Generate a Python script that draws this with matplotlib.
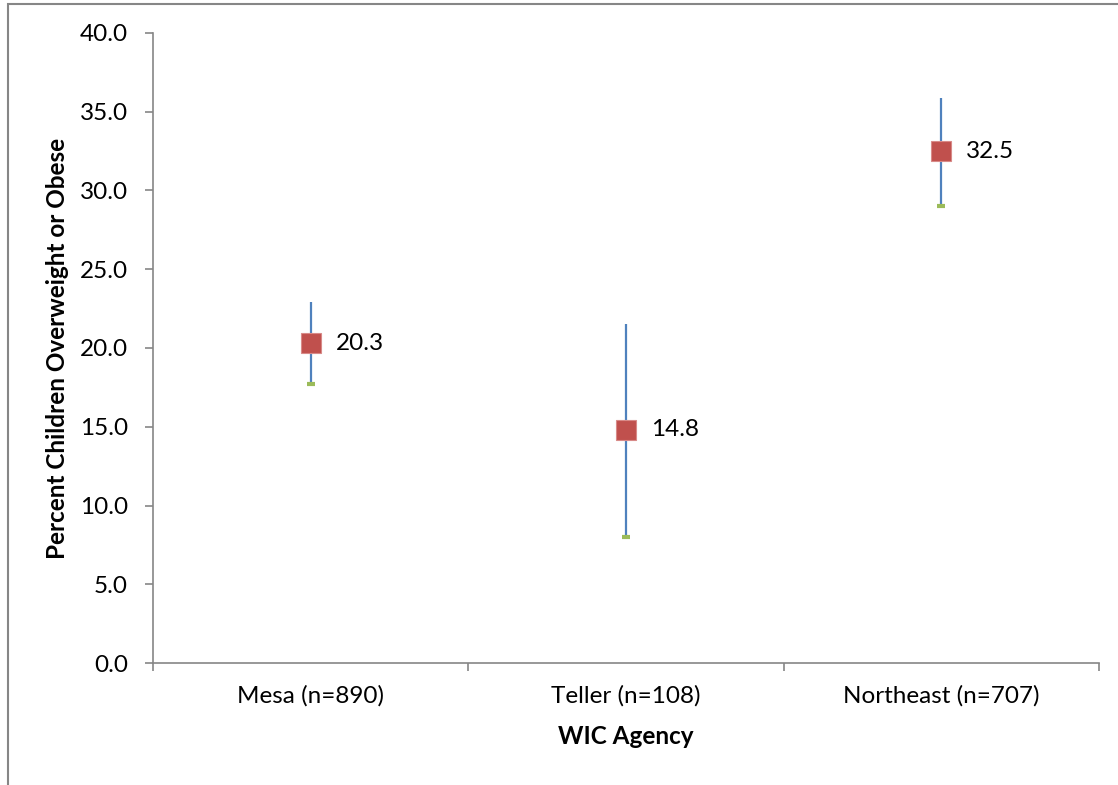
import matplotlib.pyplot as plt
from matplotlib.patches import Rectangle

agencies = ["Mesa (n=890)", "Teller (n=108)", "Northeast (n=707)"]
percent = [20.3, 14.8, 32.5]
upper = [22.9, 21.5, 35.9]
lower = [17.7, 8.0, 29.0]

plt.rcParams["font.family"] = ["Lato", "DejaVu Sans"]

fig = plt.figure(figsize=(11.18, 7.85), dpi=100)
ax = fig.add_axes([0.1369, 0.1554, 0.846, 0.8026])

x = list(range(len(agencies)))
grey = "#868686"
fs = 17.5

# high-low lines
ax.vlines(x, percent, upper, color="#4F81BD", linewidth=1.6, zorder=2)
ax.vlines(x, lower, percent, color="#4F81BD", linewidth=1.6, zorder=2)
ax.plot(x, lower, linestyle="none", marker="_", markersize=6, markeredgewidth=3,
        color="#9BBB59", zorder=3)
ax.plot(x, percent, linestyle="none", marker="s", markersize=14.5,
        markerfacecolor="#C0504D", markeredgecolor="#D88A88", markeredgewidth=0.8,
        zorder=4)
for xi, v in zip(x, percent):
    ax.annotate(f"{v:.1f}", (xi, v), xytext=(18, 0), textcoords="offset points",
                va="center", ha="left", fontsize=fs)

ax.set_xlim(-0.5, 2.5)
ax.set_ylim(0, 40)
ax.set_yticks([i * 5 for i in range(9)])
ax.set_yticklabels([f"{i * 5:.1f}" for i in range(9)], fontsize=fs)
ax.set_xticks([-0.5, 0.5, 1.5, 2.5])
ax.set_xticklabels([])
ax.set_xticks(x, minor=True)
ax.set_xticklabels(agencies, minor=True, fontsize=fs)
ax.tick_params(axis="x", which="minor", length=0, pad=16)
ax.tick_params(axis="x", which="major", direction="out", length=6, color=grey, width=1.2)
ax.tick_params(axis="y", direction="out", length=6, color=grey, width=1.2, pad=12)

for s in ["top", "right"]:
    ax.spines[s].set_visible(False)
for s in ["left", "bottom"]:
    ax.spines[s].set_color(grey)
    ax.spines[s].set_linewidth(1.2)

ax.set_xlabel("WIC Agency", fontsize=fs, fontweight="bold", labelpad=13)
ax.set_ylabel("Percent Children Overweight or Obese", fontsize=fs, fontweight="bold", labelpad=8)

# outer chart frame
fig.patches.append(Rectangle((8 / 1118, -0.01), 1.02, 1 - 4 / 785 + 0.01,
                             transform=fig.transFigure, fill=False,
                             edgecolor=grey, linewidth=1.5))

fig.savefig("out.png", dpi=100)
